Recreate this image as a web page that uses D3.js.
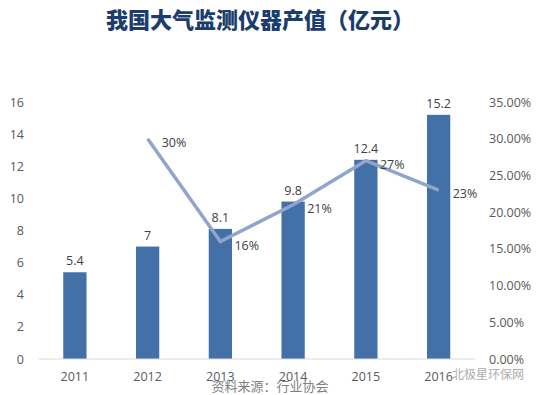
<!DOCTYPE html>
<html>
<head>
<meta charset="utf-8">
<script src="https://cdn.jsdelivr.net/npm/d3@7"></script>
<style>
  body { margin: 0; background: #fff; }
  text { font-family: "Open Sans", "Noto Sans CJK SC", sans-serif; }
</style>
</head>
<body>
<div id="chart"></div>
<script>
// data
const years = ["2011", "2012", "2013", "2014", "2015", "2016"];
const output = [5.4, 7, 8.1, 9.8, 12.4, 15.2];
const growthYears = ["2012", "2013", "2014", "2015", "2016"];
const growth = [0.30, 0.16, 0.21, 0.27, 0.23];
const growthLabels = ["30%", "16%", "21%", "27%", "23%"];
const leftTicks = [0, 2, 4, 6, 8, 10, 12, 14, 16];
const rightTicks = [0, 0.05, 0.10, 0.15, 0.20, 0.25, 0.30, 0.35];

const width = 542, height = 395;
const svg = d3.select("#chart").append("svg")
  .attr("width", width)
  .attr("height", height);

const x = d3.scaleBand().domain(years).range([38.5, 475]).paddingInner(0.68).paddingOuter(0.34);
const yL = d3.scaleLinear().domain([0, 16]).range([359, 102]);
const yR = d3.scaleLinear().domain([0, 0.35]).range([359, 102]);

// title
svg.append("text")
  .attr("x", 260)
  .attr("y", 28)
  .attr("text-anchor", "middle")
  .attr("font-size", 22)
  .attr("font-weight", "900")
  .attr("fill", "#1b3d6c")
  .attr("font-family", "Noto Sans CJK SC")
  .text("我国大气监测仪器产值（亿元）");

// left axis
const leftAxis = svg.append("g")
  .attr("transform", "translate(24,0)")
  .call(d3.axisLeft(yL).tickValues(leftTicks).tickSize(0).tickPadding(0));
leftAxis.select(".domain").remove();
leftAxis.selectAll("text").attr("font-size", 12.5).attr("fill", "#595959").attr("font-family", "Open Sans");

// right axis
const rightAxis = svg.append("g")
  .attr("transform", "translate(489,0)")
  .call(d3.axisRight(yR).tickValues(rightTicks).tickSize(0).tickPadding(0)
    .tickFormat(d3.format(".2%")));
rightAxis.select(".domain").remove();
rightAxis.selectAll("text").attr("font-size", 12.5).attr("fill", "#595959").attr("font-family", "Open Sans");

// bars
svg.selectAll("rect.bar")
  .data(output)
  .join("rect")
  .attr("class", "bar")
  .attr("x", (d, i) => x(years[i]))
  .attr("y", d => yL(d))
  .attr("width", x.bandwidth())
  .attr("height", d => yL(0) - yL(d))
  .attr("fill", "#4470a8");

// bar labels
svg.selectAll("text.barlab")
  .data(output)
  .join("text")
  .attr("class", "barlab")
  .attr("x", (d, i) => x(years[i]) + x.bandwidth() / 2)
  .attr("y", d => yL(d) - 7)
  .attr("text-anchor", "middle")
  .attr("font-size", 12.5)
  .attr("fill", "#404040")
  .text(d => d);

// baseline
svg.append("line")
  .attr("x1", 38.5).attr("x2", 475)
  .attr("y1", yL(0)).attr("y2", yL(0))
  .attr("stroke", "#d9d9d9")
  .attr("stroke-width", 1);

// x axis labels
svg.selectAll("text.xlab")
  .data(years)
  .join("text")
  .attr("class", "xlab")
  .attr("x", d => x(d) + x.bandwidth() / 2)
  .attr("y", 381)
  .attr("text-anchor", "middle")
  .attr("font-size", 12.5)
  .attr("fill", "#595959")
  .text(d => d);

// growth line
const cx = (d, i) => x(growthYears[i]) + x.bandwidth() / 2;
const line = d3.line()
  .x((d, i) => cx(d, i))
  .y(d => yR(d));
svg.append("path")
  .datum(growth)
  .attr("d", line)
  .attr("fill", "none")
  .attr("stroke", "#8fa5cb")
  .attr("stroke-width", 3.5)
  .attr("stroke-linejoin", "miter");

svg.selectAll("text.glab")
  .data(growth)
  .join("text")
  .attr("class", "glab")
  .attr("x", (d, i) => cx(d, i) + 14)
  .attr("y", d => yR(d) + 8)
  .attr("font-size", 12.5)
  .attr("fill", "#404040")
  .text((d, i) => growthLabels[i]);

// source note
svg.append("text")
  .attr("x", 270)
  .attr("y", 391)
  .attr("text-anchor", "middle")
  .attr("font-size", 13)
  .attr("fill", "#7f7f7f")
  .text("资料来源：行业协会");

// watermark
svg.append("text")
  .attr("x", 452)
  .attr("y", 379)
  .attr("font-size", 12)
  .attr("fill", "#999")
  .attr("opacity", 0.8)
  .text("北极星环保网");
</script>
</body>
</html>
